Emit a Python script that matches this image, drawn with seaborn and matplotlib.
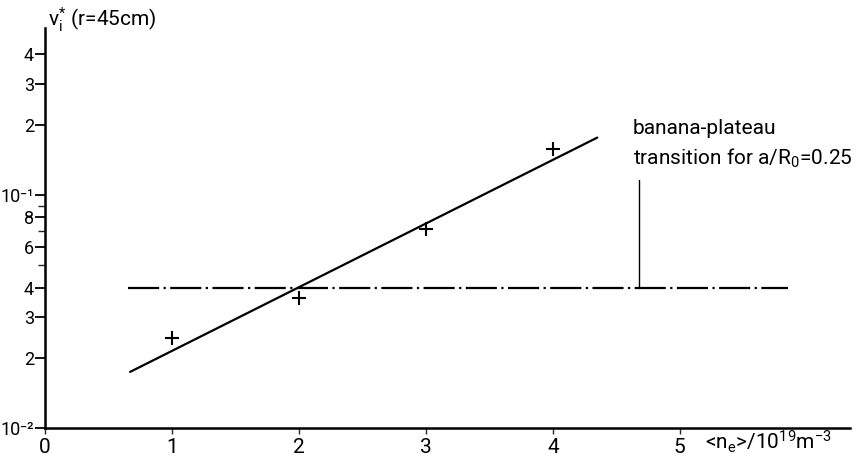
import matplotlib
matplotlib.use("Agg")
import matplotlib.pyplot as plt
import seaborn as sns
import pandas as pd
from matplotlib.ticker import FixedLocator, FixedFormatter, NullFormatter

# data
density = [1, 2, 3, 4]
nu_star = [0.0243, 0.0361, 0.0715, 0.157]
fit_x = [0.67, 4.35]
fit_y = [0.0174, 0.176]
threshold_x = [0.65, 5.85]
threshold_y = [0.04, 0.04]
marker_x = [4.68, 4.68]
marker_y = [0.04, 0.116]

ytick_vals = [0.01, 0.02, 0.03, 0.04, 0.06, 0.08, 0.1, 0.2, 0.3, 0.4]
ytick_labels = ["10\u207b\u00b2", "2", "3", "4", "6", "8", "10\u207b\u00b9", "2", "3", "4"]
yminor_vals = [0.05, 0.07, 0.09]
xtick_vals = [0, 1, 2, 3, 4, 5]

sns.set_style("ticks")
plt.rcParams["font.family"] = ["Roboto", "DejaVu Sans"]
plt.rcParams["mathtext.fontset"] = "custom"
plt.rcParams["mathtext.rm"] = "Roboto"
plt.rcParams["mathtext.it"] = "Roboto:italic"
plt.rcParams["text.color"] = "black"
plt.rcParams["xtick.labelcolor"] = "black"
plt.rcParams["ytick.labelcolor"] = "black"

W, H = 859, 462
fig = plt.figure(figsize=(W / 100, H / 100), dpi=100)
ax = fig.add_axes([0.0524, 0.0736, 0.937, 0.866])

pts = pd.DataFrame({"x": density, "y": nu_star})
fit = pd.DataFrame({"x": fit_x, "y": fit_y})

sns.lineplot(data=fit, x="x", y="y", color="black", lw=1.6, ax=ax)
sns.scatterplot(data=pts, x="x", y="y", marker="+", s=90, color="black",
                linewidth=1.5, ax=ax)
ax.plot(threshold_x, threshold_y, color="black", lw=1.6,
        linestyle=(0, (14, 2, 1, 2)))
ax.plot(marker_x, marker_y, color="black", lw=1.0)

ax.set_yscale("log")
ax.set_xlim(0, 6.34)
ax.set_ylim(0.01, 0.52)
ax.yaxis.set_major_locator(FixedLocator(ytick_vals))
ax.yaxis.set_major_formatter(FixedFormatter(ytick_labels))
ax.yaxis.set_minor_locator(FixedLocator(yminor_vals))
ax.yaxis.set_minor_formatter(NullFormatter())
ax.set_xticks(xtick_vals)
ax.set_xticklabels([str(v) for v in xtick_vals])
ax.tick_params(axis="y", which="major", labelsize=13, length=7,
               width=1.3, color="black", pad=1)
ax.tick_params(axis="y", which="minor", length=5, width=1.0)
ax.tick_params(axis="x", which="major", labelsize=15, length=4, width=1.0,
               pad=3)
ax.set_xlabel("")
ax.set_ylabel("")
sns.despine(ax=ax)
for s in ["left", "bottom"]:
    ax.spines[s].set_linewidth(1.8)
    ax.spines[s].set_color("black")

fig.text(705 / W, 1 - 442 / H, "<n$_\\mathrm{e}$>/10$^{19}$m$^{-3}$", fontsize=15,
         ha="left", va="center")
fig.text(48 / W, 1 - 20 / H, "\u03bd$_\\mathrm{i}^{*}$ (r=45cm)", fontsize=15,
         ha="left", va="center")
fig.text(633 / W, 1 - 128 / H, "banana-plateau", fontsize=15,
         ha="left", va="center")
fig.text(633 / W, 1 - 158 / H, "transition for a/R$_\\mathrm{0}$=0.25",
         fontsize=15, ha="left", va="center")

fig.savefig("out.png", dpi=100)
